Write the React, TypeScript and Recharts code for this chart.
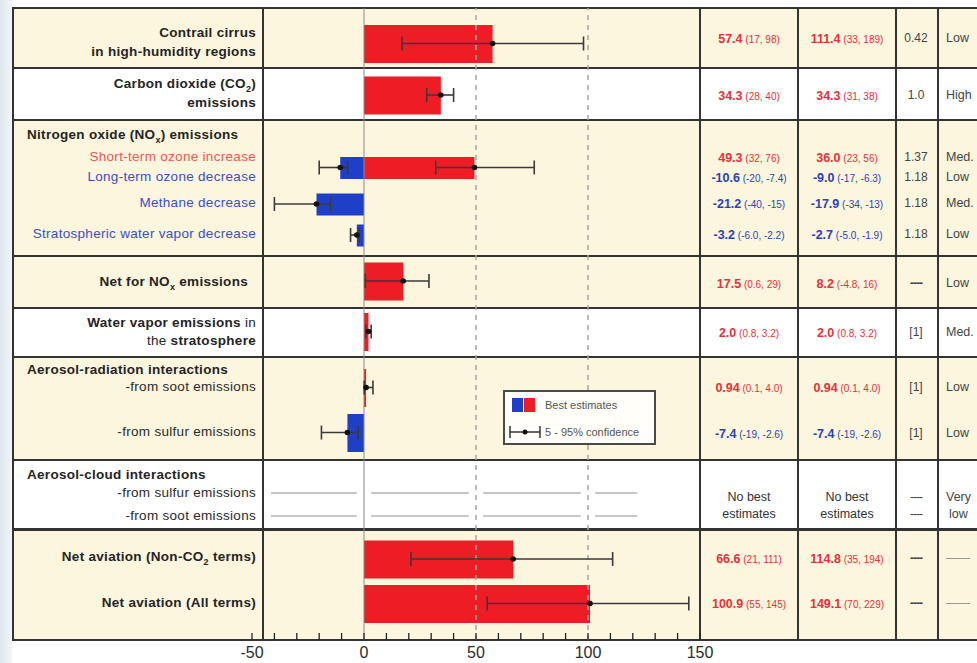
import type { CSSProperties, ReactNode } from 'react'
import { Bar, ComposedChart, ErrorBar, ReferenceLine, Scatter, XAxis, YAxis } from 'recharts'

// radiative forcing best estimates with 5-95% range (first table column)
const itemKeys = ['contrail', 'co2', 'shortOzone', 'longOzone', 'methane', 'stratWater', 'netNox', 'waterVapor', 'soot', 'sulfur', 'netNonCo2', 'netAll']
const rfBest = [57.4, 34.3, 49.3, -10.6, -21.2, -3.2, 17.5, 2.0, 0.94, -7.4, 66.6, 100.9]
const rfLow = [17, 28, 32, -20, -40, -6.0, 0.6, 0.8, 0.1, -19, 21, 55]
const rfHigh = [98, 40, 76, -7.4, -15, -2.2, 29, 3.2, 4.0, -2.6, 111, 145]
// second column
const erfBest = [111.4, 34.3, 36.0, -9.0, -17.9, -2.7, 8.2, 2.0, 0.94, -7.4, 114.8, 149.1]
const erfLow = [33, 31, 23, -17, -34, -5.0, -4.8, 0.8, 0.1, -19, 35, 70]
const erfHigh = [189, 38, 56, -6.3, -13, -1.9, 16, 3.2, 4.0, -2.6, 194, 229]
const efficacy = ['0.42', '1.0', '1.37', '1.18', '1.18', '1.18', '----', '[1]', '[1]', '[1]', '----', '----']
const confidence = ['Low', 'High', 'Med.', 'Low', 'Med.', 'Low', 'Low', 'Med.', 'Low', 'Low', '\u2014\u2014', '\u2014\u2014']
const xTicks = [-50, -40, -30, -20, -10, 0, 10, 20, 30, 40, 50, 60, 70, 80, 90, 100, 110, 120, 130, 140, 150]
const xLabelled = [-50, 0, 50, 100, 150]
const gridDashed = [50, 100]
// aerosol-cloud: no best estimate, only a sketched span
const cloudSpan = [-41.5, 122]

// layout (vertical positions, px from the plot top)
const barPos: Record<string, number> = {
  contrail: 35.5, co2: 87, shortOzone: 159.5, longOzone: 159.5, methane: 196, stratWater: 227,
  netNox: 273, waterVapor: 323.5, soot: 379.5, sulfur: 424.5, netNonCo2: 551, netAll: 595.5,
}
const cloudPos = [485, 508]
const textY: Record<string, number> = {
  contrail: 38, co2: 95, shortOzone: 157, longOzone: 177, methane: 203, stratWater: 234,
  netNox: 283, waterVapor: 332, soot: 387, sulfur: 433, netNonCo2: 558, netAll: 603,
}
const thinItems = new Set(['shortOzone', 'longOzone', 'methane', 'stratWater'])

const W = 977
const H = 663
const RED = '#ee1c25'
const BLUE = '#1f3fc8'
const TXT_RED = '#e6313a'
const TXT_BLUE = '#2b41b8'
const CREAM = '#fcf6df'
const LINE = '#333'
const FONT = '"Liberation Sans", Arial, Helvetica, sans-serif'

const chartRows = itemKeys.map((key, i) => ({
  key,
  pos: barPos[key],
  value: rfBest[i],
  err: [rfBest[i] - rfLow[i], rfHigh[i] - rfBest[i]],
}))

const cloudSegments = (() => {
  const gap = 3.2
  const segs: number[][] = []
  let start = cloudSpan[0]
  for (const c of [0, ...gridDashed]) {
    segs.push([start, c - gap])
    start = c + gap
  }
  segs.push([start, cloudSpan[1]])
  return segs
})()

const bands: [number, number, string][] = [
  [8, 68, CREAM], [68, 120, '#ffffff'], [120, 256, CREAM], [256, 308, CREAM],
  [308, 357, '#ffffff'], [357, 460, CREAM], [460, 529, '#ffffff'], [529, 640, CREAM],
]
const hLines: [number, number][] = [[8, 2], [68, 1.6], [120, 1.6], [256, 1.6], [308, 1.6], [357, 1.6], [460, 1.6], [529, 3], [640, 2]]
const vLines = [13, 263, 700, 798, 896, 938]

const fmtBest = (n: number) => (Number.isInteger(n) ? n.toFixed(1) : String(n))
const fmtBound = (n: number) => (Number.isInteger(n) && Math.abs(n) < 10 ? n.toFixed(1) : String(n))

function renderBar(props: any) {
  const { x, y, width, height, payload } = props
  if (x == null || y == null) return <g />
  const cy = y + height / 2
  const t = thinItems.has(payload.key) ? 22 : 38
  const x0 = Math.min(x, x + width)
  const w = Math.max(Math.abs(width), 1)
  return <rect x={x0} y={cy - t / 2} width={w} height={t} fill={payload.value < 0 ? BLUE : RED} />
}

function renderDot(props: any) {
  return <circle cx={props.cx} cy={props.cy} r={2.8} fill="#111" />
}

function Txt({ x, y, anchor = 'end', style, children }: { x: number; y: number; anchor?: string; style?: CSSProperties; children: ReactNode }) {
  const pos: CSSProperties = { position: 'absolute', top: y - 8, lineHeight: '16px', whiteSpace: 'nowrap' }
  if (anchor === 'end') pos.right = W - x
  else if (anchor === 'start') pos.left = x
  else {
    pos.left = x
    pos.transform = 'translateX(-50%)'
  }
  return <div style={{ ...pos, ...style }}>{children}</div>
}

function ValueText({ v, lo, hi }: { v: number; lo: number; hi: number }) {
  return (
    <span style={{ color: v < 0 ? TXT_BLUE : TXT_RED }}>
      <b style={{ fontSize: 12.5 }}>{fmtBest(v)}</b>
      <span style={{ fontSize: 10 }}> ({fmtBound(lo)}, {fmtBound(hi)})</span>
    </span>
  )
}

const bold: CSSProperties = { fontWeight: 700, fontSize: 13.5, letterSpacing: 0.3, color: '#242424' }
const sub: CSSProperties = { fontSize: 13.5, letterSpacing: 0.3, color: '#2a2a2a' }
const subRed: CSSProperties = { ...sub, color: '#ef5656' }
const subBlue: CSSProperties = { ...sub, color: '#3a4fc2' }
const small: CSSProperties = { fontSize: 9 }
const R = 256

function LeftLabels() {
  return (
    <>
      <Txt x={R} y={33} style={bold}>Contrail cirrus</Txt>
      <Txt x={R} y={52} style={bold}>in high-humidity regions</Txt>
      <Txt x={R} y={84} style={bold}>Carbon dioxide (CO<sub style={small}>2</sub>)</Txt>
      <Txt x={R} y={103} style={bold}>emissions</Txt>
      <Txt x={27} y={135} anchor="start" style={bold}>Nitrogen oxide (NO<sub style={small}>x</sub>) emissions</Txt>
      <Txt x={R} y={157} style={subRed}>Short-term ozone increase</Txt>
      <Txt x={R} y={177} style={subBlue}>Long-term ozone decrease</Txt>
      <Txt x={R} y={203} style={subBlue}>Methane decrease</Txt>
      <Txt x={R} y={234} style={subBlue}>Stratospheric water vapor decrease</Txt>
      <Txt x={248} y={282} style={bold}>Net for NO<sub style={small}>x</sub> emissions</Txt>
      <Txt x={R} y={323} style={bold}>Water vapor emissions <span style={{ fontWeight: 400 }}>in</span></Txt>
      <Txt x={R} y={341} style={bold}><span style={{ fontWeight: 400 }}>the</span> stratosphere</Txt>
      <Txt x={27} y={370} anchor="start" style={bold}>Aerosol-radiation interactions</Txt>
      <Txt x={R} y={387} style={sub}>-from soot emissions</Txt>
      <Txt x={R} y={432} style={sub}>-from sulfur emissions</Txt>
      <Txt x={27} y={475} anchor="start" style={bold}>Aerosol-cloud interactions</Txt>
      <Txt x={R} y={493} style={sub}>-from sulfur emissions</Txt>
      <Txt x={R} y={516} style={sub}>-from soot emissions</Txt>
      <Txt x={R} y={557} style={bold}>Net aviation (Non-CO<sub style={small}>2</sub> terms)</Txt>
      <Txt x={R} y={603} style={bold}>Net aviation (All terms)</Txt>
    </>
  )
}

const grey: CSSProperties = { fontSize: 12, color: '#444' }

function RightTable() {
  return (
    <>
      {itemKeys.map((key, i) => (
        <div key={key}>
          <Txt x={749} y={textY[key]} anchor="middle"><ValueText v={rfBest[i]} lo={rfLow[i]} hi={rfHigh[i]} /></Txt>
          <Txt x={847} y={textY[key]} anchor="middle"><ValueText v={erfBest[i]} lo={erfLow[i]} hi={erfHigh[i]} /></Txt>
          <Txt x={916} y={textY[key]} anchor="middle" style={efficacy[i] === '----' ? { ...grey, fontWeight: 700, letterSpacing: -1 } : grey}>{efficacy[i]}</Txt>
          <Txt x={946} y={textY[key]} anchor="start" style={confidence[i].startsWith('\u2014') ? { ...grey, color: '#999' } : { ...grey, fontSize: 12.5 }}>{confidence[i]}</Txt>
        </div>
      ))}
      <Txt x={749} y={497} anchor="middle" style={{ fontSize: 12.5, color: '#333' }}>No best</Txt>
      <Txt x={749} y={514} anchor="middle" style={{ fontSize: 12.5, color: '#333' }}>estimates</Txt>
      <Txt x={847} y={497} anchor="middle" style={{ fontSize: 12.5, color: '#333' }}>No best</Txt>
      <Txt x={847} y={514} anchor="middle" style={{ fontSize: 12.5, color: '#333' }}>estimates</Txt>
      <Txt x={916} y={497} anchor="middle" style={{ ...grey, letterSpacing: -1 }}>----</Txt>
      <Txt x={916} y={514} anchor="middle" style={{ ...grey, letterSpacing: -1 }}>----</Txt>
      <Txt x={946} y={497} anchor="start" style={{ ...grey, fontSize: 12.5 }}>Very</Txt>
      <Txt x={949} y={514} anchor="start" style={{ ...grey, fontSize: 12.5 }}>low</Txt>
    </>
  )
}

function LegendBox() {
  return (
    <div style={{ position: 'absolute', left: 503, top: 390, width: 153, height: 55, border: '2px solid #4a4a4a', background: '#fffef8', boxSizing: 'border-box' }}>
      <div style={{ position: 'absolute', left: 7, top: 6, width: 11, height: 14, background: BLUE }} />
      <div style={{ position: 'absolute', left: 19, top: 6, width: 11, height: 14, background: RED }} />
      <div style={{ position: 'absolute', left: 40, top: 5, lineHeight: '16px', fontSize: 11, color: '#555', whiteSpace: 'nowrap' }}>Best estimates</div>
      <svg style={{ position: 'absolute', left: 3, top: 32 }} width={34} height={16}>
        <line x1={2} y1={8} x2={32} y2={8} stroke="#333" strokeWidth={1.5} />
        <line x1={2} y1={2} x2={2} y2={14} stroke="#333" strokeWidth={1.5} />
        <line x1={32} y1={2} x2={32} y2={14} stroke="#333" strokeWidth={1.5} />
        <circle cx={17} cy={8} r={2.5} fill="#111" />
      </svg>
      <div style={{ position: 'absolute', left: 40, top: 32, lineHeight: '16px', fontSize: 11, color: '#555', whiteSpace: 'nowrap' }}>5 - 95% confidence</div>
    </div>
  )
}

export default function App() {
  return (
    <div style={{ position: 'absolute', left: 0, top: 0, width: W, height: H, overflow: 'hidden', background: '#fff', fontFamily: FONT }}>
      <div style={{ position: 'absolute', left: 0, top: 0, width: 12, height: H, background: 'linear-gradient(to right, #dde6ec, #f3f6f8)' }} />
      {bands.map(([y0, y1, c]) => (
        <div key={y0} style={{ position: 'absolute', left: 13, top: y0, width: W - 13, height: y1 - y0, background: c }} />
      ))}
      {hLines.map(([y, t]) => (
        <div key={y} style={{ position: 'absolute', left: 12, top: y - t / 2, width: W - 12, height: t, background: LINE }} />
      ))}
      {vLines.map((x) => (
        <div key={x} style={{ position: 'absolute', left: x - (x === 13 ? 1 : 0.75), top: 8, width: x === 13 ? 2 : 1.5, height: 632, background: LINE }} />
      ))}
      <div style={{ position: 'absolute', left: 0, top: 0 }}>
        <ComposedChart width={W} height={H} data={chartRows} layout="vertical" margin={{ top: 7, right: W - 700, bottom: 0, left: 252 }}>
          <XAxis
            type="number"
            domain={[-50, 150]}
            ticks={xTicks}
            interval={0}
            allowDataOverflow
            height={23}
            axisLine={false}
            tickSize={-7}
            tickMargin={14}
            tickLine={{ stroke: '#222', strokeWidth: 1.3 }}
            tick={{ fontSize: 16, fill: '#2b2b2b', fontFamily: FONT }}
            tickFormatter={(v: number) => (xLabelled.includes(v) ? String(v) : '')}
          />
          <XAxis
            xAxisId="top"
            orientation="top"
            type="number"
            domain={[-50, 150]}
            ticks={xTicks}
            interval={0}
            allowDataOverflow
            height={1}
            axisLine={false}
            tick={false}
            tickSize={-7}
            tickLine={{ stroke: '#222', strokeWidth: 1.3 }}
          />
          <YAxis type="number" dataKey="pos" domain={[0, 632]} hide />
          <ReferenceLine x={0} stroke="#8a8a8a" strokeWidth={1} />
          {gridDashed.map((g) => (
            <ReferenceLine key={g} x={g} stroke="#a5a5a5" strokeWidth={1.5} strokeDasharray="5 5" />
          ))}
          {cloudPos.map((p) =>
            cloudSegments.map(([a, b]) => (
              <ReferenceLine key={`${p}-${a}`} segment={[{ x: a, y: p }, { x: b, y: p }]} stroke="#8f8f8f" strokeWidth={1} />
            )),
          )}
          <Bar dataKey="value" barSize={10} shape={renderBar} isAnimationActive={false} />
          <Scatter dataKey="value" shape={renderDot} isAnimationActive={false}>
            <ErrorBar dataKey="err" direction="x" width={7} stroke="#3a3a3a" strokeWidth={1.6} />
          </Scatter>
        </ComposedChart>
      </div>
      <LeftLabels />
      <RightTable />
      <LegendBox />
    </div>
  )
}
